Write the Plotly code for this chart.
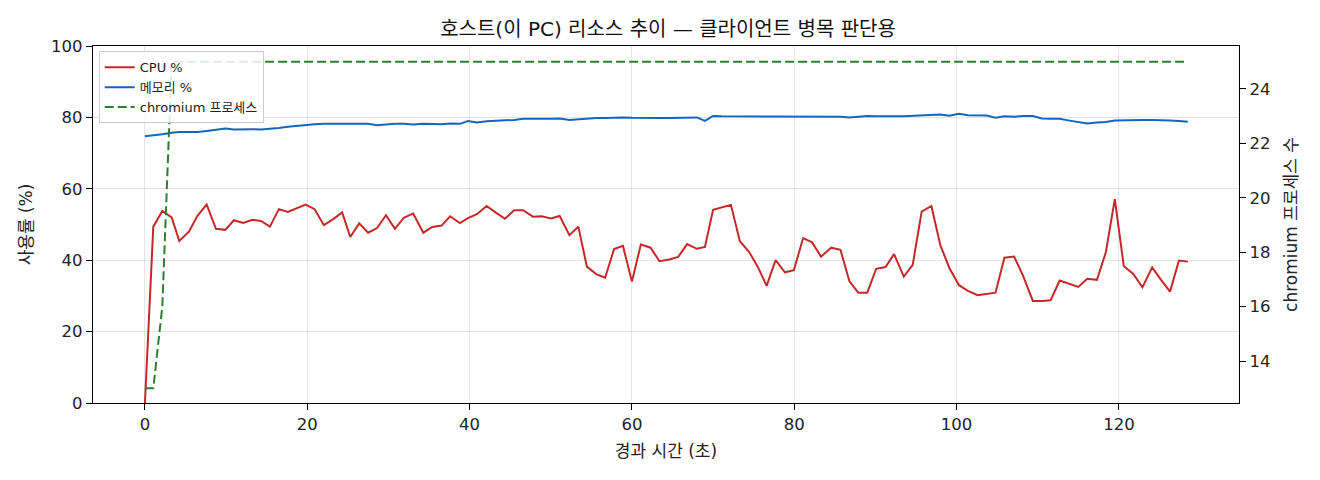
import plotly.graph_objects as go

# elapsed time (s) of each sample
elapsed = [
    0.0, 1.03, 2.14, 3.29, 4.23, 5.42, 6.49, 7.6, 8.75, 9.9,
    10.96, 12.1, 13.27, 14.3, 15.4, 16.5, 17.6, 18.7, 19.8, 20.9,
    22.05, 23.2, 24.3, 25.3, 26.4, 27.5, 28.6, 29.7, 30.8, 31.9,
    33.05, 34.3, 35.4, 36.55, 37.6, 38.8, 39.8, 40.9, 42.1, 43.2,
    44.35, 45.5, 46.6, 47.8, 48.9, 50.0, 51.1, 52.3, 53.4, 54.45,
    55.6, 56.7, 57.8, 58.9, 60.0, 61.1, 62.3, 63.4, 64.6, 65.7,
    66.8, 68.0, 69.0, 70.0, 71.1, 72.2, 73.3, 74.45, 75.5, 76.6,
    77.7, 78.85, 79.95, 81.1, 82.2, 83.3, 84.55, 85.7, 86.8, 87.9,
    89.0, 90.1, 91.25, 92.3, 93.5, 94.6, 95.7, 96.9, 98.0, 99.1,
    100.3, 101.4, 102.6, 103.7, 104.8, 105.9, 107.1, 108.2, 109.4, 110.5,
    111.6, 112.7, 113.9, 115.0, 116.1, 117.3, 118.4, 119.5, 120.6, 121.8,
    122.9, 124.1, 125.2, 126.3, 127.4, 128.5,
]

cpu_pct = [
    0.0, 49.4, 53.8, 52.0, 45.4, 48.0, 52.5, 55.6, 48.8, 48.5,
    51.2, 50.4, 51.3, 51.0, 49.4, 54.3, 53.5, 54.5, 55.6, 54.3,
    49.8, 51.5, 53.4, 46.5, 50.3, 47.7, 49.0, 52.6, 48.8, 51.9,
    53.1, 47.7, 49.3, 49.7, 52.3, 50.4, 51.8, 52.9, 55.2, 53.4,
    51.6, 54.0, 54.0, 52.2, 52.3, 51.7, 52.4, 47.0, 49.4, 38.2,
    36.1, 35.1, 43.1, 44.0, 34.0, 44.4, 43.5, 39.7, 40.2, 40.9,
    44.5, 43.2, 43.7, 54.1, 54.7, 55.5, 45.3, 42.3, 38.2, 32.8,
    40.0, 36.6, 37.2, 46.2, 45.0, 41.0, 43.5, 42.9, 34.1, 30.9,
    30.9, 37.6, 38.1, 41.7, 35.4, 38.7, 53.6, 55.2, 44.2, 37.9,
    33.0, 31.4, 30.2, 30.5, 30.9, 40.7, 41.0, 35.6, 28.6, 28.6,
    28.8, 34.3, 33.4, 32.5, 34.8, 34.5, 42.3, 57.1, 38.4, 36.1,
    32.4, 38.0, 34.5, 31.2, 39.9, 39.6,
]

mem_pct = [
    74.7, 74.9, 75.3, 75.7, 75.9, 75.9, 75.9, 76.2, 76.5, 76.9,
    76.6, 76.7, 76.7, 76.6, 76.7, 77.0, 77.4, 77.7, 77.9, 78.1,
    78.2, 78.2, 78.1, 78.2, 78.1, 78.2, 77.8, 78.1, 78.2, 78.2,
    78.0, 78.2, 78.1, 78.1, 78.3, 78.2, 79.0, 78.6, 78.9, 79.0,
    79.0, 79.3, 79.6, 79.5, 79.6, 79.6, 79.7, 79.3, 79.5, 79.7,
    79.8, 79.8, 80.0, 80.0, 79.9, 79.8, 79.7, 79.8, 79.8, 79.8,
    80.0, 80.0, 79.0, 80.4, 80.3, 80.3, 80.4, 80.3, 80.4, 80.3,
    80.2, 80.3, 80.4, 80.4, 80.4, 80.4, 80.4, 80.2, 80.0, 80.2,
    80.4, 80.3, 80.2, 80.3, 80.3, 80.4, 80.5, 80.6, 80.8, 80.5,
    81.0, 80.6, 80.6, 80.5, 79.9, 80.3, 80.2, 80.4, 80.4, 79.7,
    79.6, 79.6, 79.1, 78.6, 78.3, 78.6, 78.7, 79.1, 79.2, 79.3,
    79.3, 79.3, 79.3, 79.1, 79.0, 78.8,
]

chromium_procs = [13, 13, 16] + [25] * (len(elapsed) - 3)

assert len(elapsed) == len(cpu_pct) == len(mem_pct) == len(chromium_procs)

FONT = "DejaVu Sans, Noto Sans CJK KR, sans-serif"

fig = go.Figure()
fig.add_trace(go.Scatter(x=elapsed, y=cpu_pct, mode="lines", name="CPU %",
                         line=dict(color="#c62828", width=2)))
fig.add_trace(go.Scatter(x=elapsed, y=mem_pct, mode="lines", name="메모리 %",
                         line=dict(color="#1565c0", width=2)))
fig.add_trace(go.Scatter(x=elapsed, y=chromium_procs, mode="lines", name="chromium 프로세스",
                         line=dict(color="#2e7d32", width=2, dash="9px,4px"),
                         yaxis="y2"))

axis_common = dict(showline=True, linecolor="black", linewidth=1.2,
                   ticks="outside", ticklen=6, tickcolor="black",
                   tickfont=dict(size=16.5, color="#222"), zeroline=False)

# the page adds an 8px body margin, so the margins are shifted by that much
fig.update_layout(
    width=1320, height=480,
    margin=dict(l=85, r=89, t=38, b=85),
    paper_bgcolor="white", plot_bgcolor="white",
    font=dict(family=FONT, color="#222"),
    title=dict(text="호스트(이 PC) 리소스 추이 — 클라이언트 병목 판단용",
               x=0.5, xanchor="center", y=0.956, yanchor="middle",
               font=dict(size=20, color="#111")),
    xaxis=dict(range=[-6.4, 134.8], tickvals=[0, 20, 40, 60, 80, 100, 120],
               showgrid=True, gridcolor="rgba(0,0,0,0.1)", mirror=True,
               title=dict(text="경과 시간 (초)", font=dict(size=17), standoff=12),
               **axis_common),
    yaxis=dict(range=[0, 100], tickvals=[0, 20, 40, 60, 80, 100],
               showgrid=True, gridcolor="rgba(0,0,0,0.1)",
               title=dict(text="사용률 (%)", font=dict(size=17), standoff=14),
               **axis_common),
    yaxis2=dict(range=[12.46, 25.58], tickvals=[14, 16, 18, 20, 22, 24],
                overlaying="y", side="right", showgrid=False,
                title=dict(text="chromium 프로세스 수", font=dict(size=17), standoff=15),
                **axis_common),
    legend=dict(x=0.005, y=0.985, xanchor="left", yanchor="top",
                bgcolor="rgba(255,255,255,0.85)", bordercolor="#ccc", borderwidth=1,
                font=dict(size=13), tracegroupgap=0, itemwidth=30),
    showlegend=True,
)

fig.write_html("out.html")
